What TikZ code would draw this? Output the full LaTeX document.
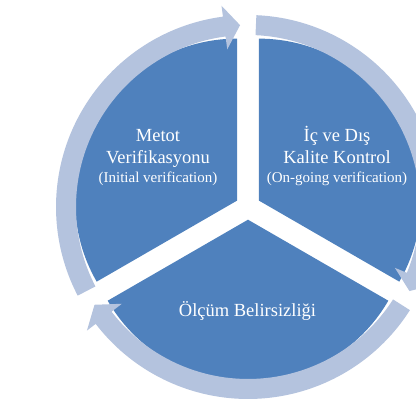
\documentclass[tikz,border=0pt]{standalone}
\usepackage{fontspec}
\setmainfont{Liberation Serif}
\definecolor{pieblue}{HTML}{4F81BD}
\definecolor{ringblue}{HTML}{B4C3DE}
\begin{document}
\begin{tikzpicture}[x=1pt,y=1pt,
  sector/.style={fill=pieblue},
  ringarrow/.style={fill=ringblue},
  lbl/.style={text=white, anchor=base, inner sep=0pt, font=\fontsize{18.5}{22}\selectfont},
  sublbl/.style={text=white, anchor=base, inner sep=0pt, font=\fontsize{15}{18}\selectfont}]
\useasboundingbox (0,0) rectangle (416,403);
\clip (0,0) rectangle (416,403);
\begin{scope}[shift={(248,196)}]
  % exploded pie sectors
  \fill[sector] (150:12.7) -- ++(90:162) arc[start angle=90, end angle=210, radius=162] -- cycle;
  \fill[sector] (30:12.7) -- ++(-30:162) arc[start angle=-30, end angle=90, radius=162] -- cycle;
  \fill[sector] (270:12.7) -- ++(210:162) arc[start angle=210, end angle=330, radius=162] -- cycle;
  % circular arrows (clockwise)
  \fill[ringarrow] (207.5:192) arc[start angle=207.5, end angle=97.5, radius=192]
    -- (97.5:203) -- (92.5:182) -- (97.5:159) -- (97.5:172)
    arc[start angle=97.5, end angle=207.5, radius=172] -- cycle;
  \fill[ringarrow] (87.5:192) arc[start angle=87.5, end angle=-22.5, radius=192]
    -- (-22.5:203) -- (-27.5:182) -- (-22.5:159) -- (-22.5:172)
    arc[start angle=-22.5, end angle=87.5, radius=172] -- cycle;
  \fill[ringarrow] (-32.5:192) arc[start angle=-32.5, end angle=-142.5, radius=192]
    -- (-142.5:203) -- (-147.5:182) -- (-142.5:159) -- (-142.5:172)
    arc[start angle=-142.5, end angle=-32.5, radius=172] -- cycle;
\end{scope}
% labels
\node[lbl] (m1) at (158,261) {Metot};
\node[lbl] (m2) at (158,239) {Verifikasyonu};
\node[sublbl] (m3) at (158,220) {(Initial verification)};
\node[lbl] (k1) at (337,261) {İç ve Dış};
\node[lbl] (k2) at (337,239) {Kalite Kontrol};
\node[sublbl] (k3) at (337,220) {(On-going verification)};
\node[lbl] (o1) at (247.5,86) {Ölçüm Belirsizliği};
\end{tikzpicture}
\end{document}
